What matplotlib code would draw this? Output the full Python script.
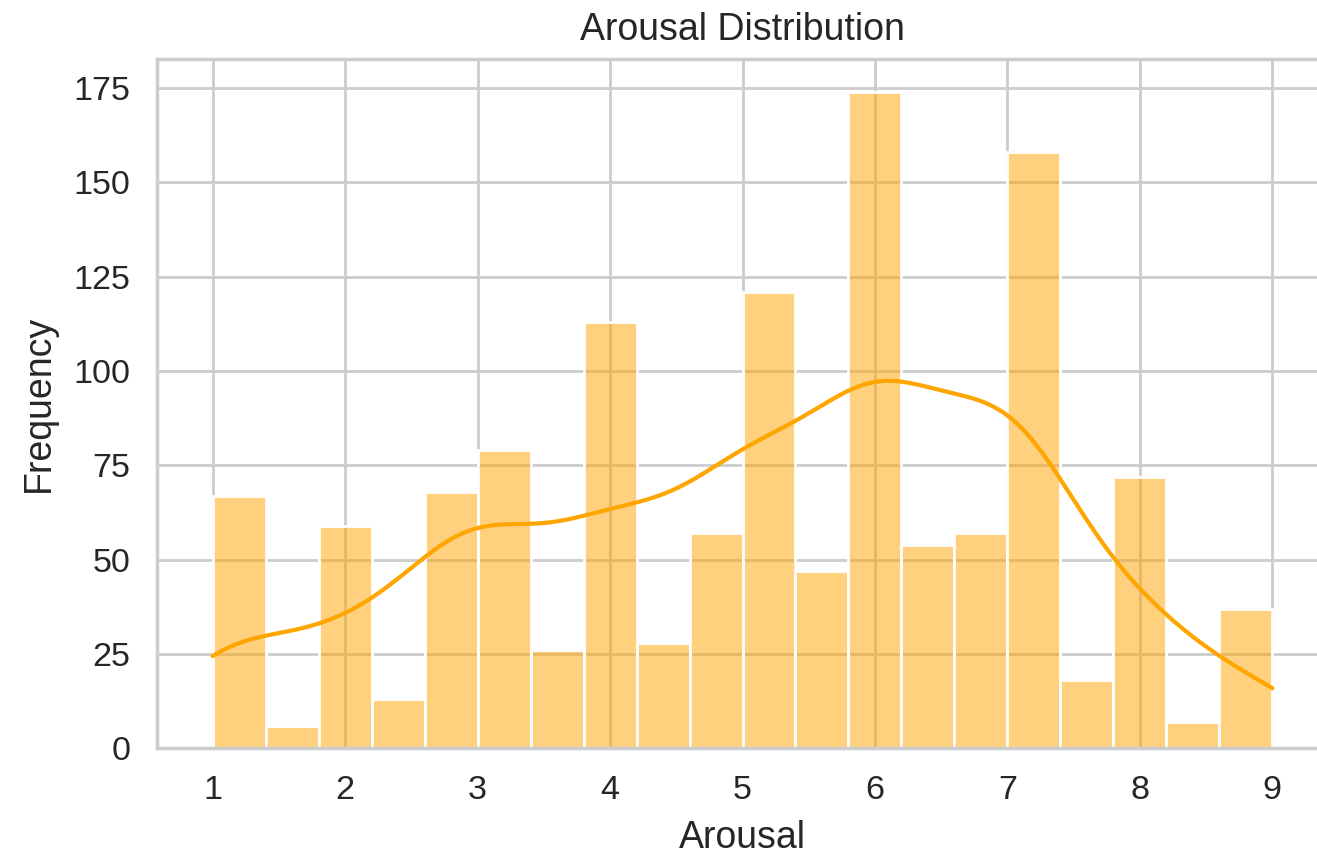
import numpy as np
import matplotlib
matplotlib.use("Agg")
import matplotlib.pyplot as plt
from matplotlib.colors import to_rgba
import seaborn as sns

# Histogram data (20 bins of width 0.4 from 1 to 9)
bin_start = 1.0
bin_width = 0.4
counts = [67, 6, 59, 13, 68, 79, 26, 113, 28, 57, 121, 47, 174, 54, 57, 158, 18, 72, 7, 37]
x_ticks = [1, 2, 3, 4, 5, 6, 7, 8, 9]
title = "Arousal Distribution"
xlabel = "Arousal"
ylabel = "Frequency"

sns.set_theme(style="whitegrid")
plt.rcParams["font.family"] = ["Liberation Sans", "DejaVu Sans"]

W, H, DPI = 1317, 859, 200
fig = plt.figure(figsize=(W / DPI, H / DPI), dpi=DPI)
ax = fig.add_axes([157 / W, 1 - 748.3 / H, 1171 / W, (748.3 - 59) / H])

nb = len(counts)
edges = bin_start + bin_width * np.arange(nb + 1)
centers = edges[:-1] + bin_width / 2

ax.bar(edges[:-1], counts, width=bin_width, align="edge",
       facecolor=to_rgba("orange", 0.5), edgecolor="white", linewidth=1.0)

# KDE estimated from the histogram counts, scaled to counts.
# Each bin's ratings are placed between its centre and the whole number it holds.
left = edges[:-1]
k = np.ceil(left - 1e-9)
holds_int = (k < left + bin_width - 1e-9) | (np.arange(nb) == nb - 1)
k[-1] = np.floor(edges[-1])
rep = np.where(holds_int, 0.5 * (k + centers), centers)
samples = np.repeat(rep, counts)
n = len(samples)
bw = 1.05 * samples.std(ddof=1) * n ** (-0.2)
grid = np.linspace(edges[0], edges[-1], 400)
dens = np.exp(-0.5 * ((grid[:, None] - samples[None, :]) / bw) ** 2).sum(axis=1) / (n * bw * np.sqrt(2 * np.pi))
ax.plot(grid, dens * n * bin_width, color="orange", lw=1.5)

ax.set_xlim(0.58, 9.42)
ax.set_ylim(0, max(counts) * 1.05)
ax.set_xticks(x_ticks)
ax.tick_params(axis="both", labelsize=12.3)
ax.set_title(title, fontsize=13.5, pad=7)
ax.set_xlabel(xlabel, fontsize=13.5, labelpad=5)
ax.set_ylabel(ylabel, fontsize=13.5, labelpad=6)

fig.savefig("out.png", dpi=DPI)
